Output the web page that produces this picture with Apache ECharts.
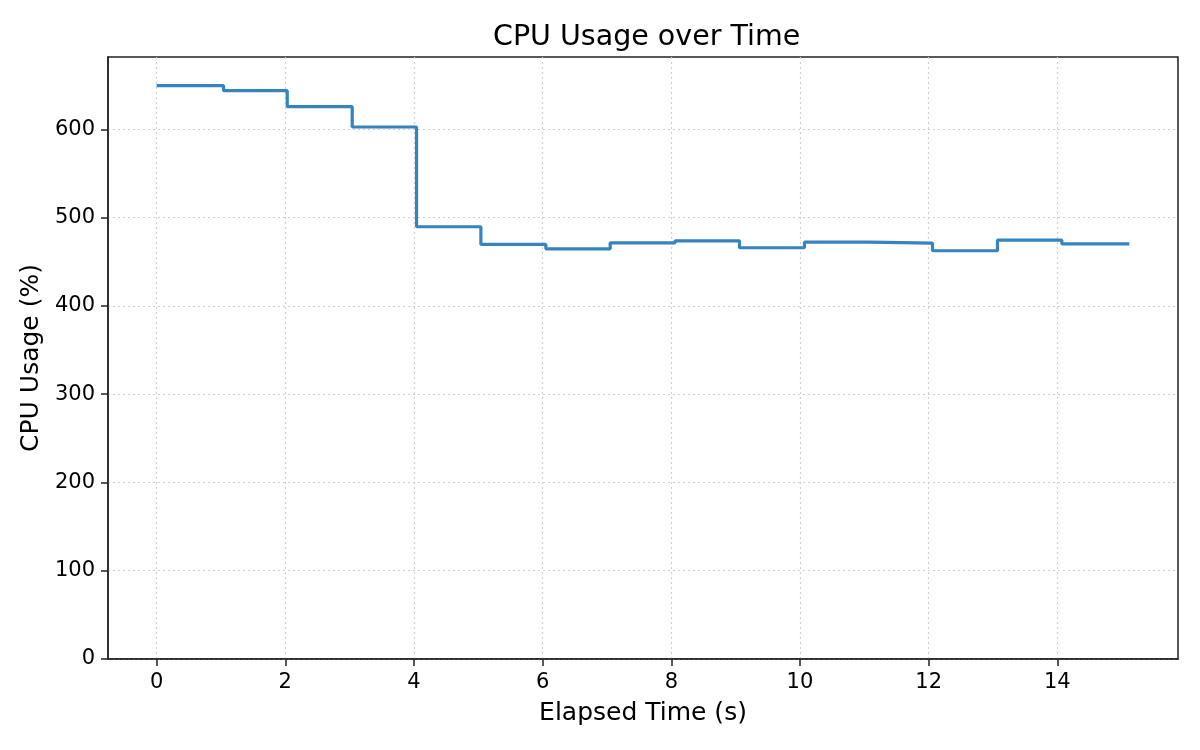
<!DOCTYPE html>
<html>
<head>
<meta charset="utf-8">
<script src="https://cdn.jsdelivr.net/npm/echarts@6/dist/echarts.min.js"></script>
<style>
  html, body { margin: 0; padding: 0; background: #fff; }
  #chart { width: 1200px; height: 750px; }
</style>
</head>
<body>
<div id="chart"></div>
<script>
// elapsed time of each sample (s)
var times = [0, 1.04, 2.03, 3.04, 4.04, 5.04, 6.05, 7.05, 8.06, 9.06, 10.07, 11.07, 12.06, 13.07, 14.07, 15.12];
// cpu usage at each sample (%), last value repeats the final level
var cpuUsage = [649.5, 643.9, 625.7, 602.7, 489.7, 469.7, 464.7, 471.5, 473.8, 465.9, 472.3, 471.2, 462.5, 474.6, 470.4, 470.4];
var xTicks = [0, 2, 4, 6, 8, 10, 12, 14];
var yTicks = [0, 100, 200, 300, 400, 500, 600];

var font = 'DejaVu Sans';

var points = [];
for (var i = 0; i < times.length; ++i) {
    points.push([times[i], cpuUsage[i]]);
}

var mychart = echarts.init(document.querySelector('#chart'));

var option = {
    animation: false,
    backgroundColor: '#fff',
    title: {
        text: 'CPU Usage over Time',
        left: 488,
        top: 18,
        textStyle: { fontFamily: font, fontSize: 28.5, fontWeight: 'normal', color: '#000' }
    },
    grid: {
        left: 108,
        right: 22,
        top: 57,
        bottom: 91,
        show: true,
        borderColor: '#222',
        borderWidth: 1.5
    },
    xAxis: {
        type: 'value',
        min: -0.756,
        max: 15.876,
        name: 'Elapsed Time (s)',
        nameLocation: 'middle',
        nameGap: 41.5,
        nameTextStyle: { fontFamily: font, fontSize: 25, color: '#000' },
        axisLine: { show: true, onZero: false, lineStyle: { color: '#222', width: 1.5 } },
        axisTick: { show: true, length: 7, customValues: xTicks, lineStyle: { color: '#222', width: 1.5 } },
        axisLabel: { customValues: xTicks, margin: 13, fontFamily: font, fontSize: 21, color: '#000' },
        splitLine: { show: true, lineStyle: { color: '#d0d0d0', width: 1.2, type: [2, 3] } }
    },
    yAxis: {
        type: 'value',
        min: 0,
        max: 682,
        name: 'CPU Usage (%)',
        nameLocation: 'middle',
        nameGap: 62,
        nameTextStyle: { fontFamily: font, fontSize: 25, color: '#000' },
        axisLine: { show: true, onZero: false, lineStyle: { color: '#222', width: 1.5 } },
        axisTick: { show: true, length: 7, customValues: yTicks, lineStyle: { color: '#222', width: 1.5 } },
        axisLabel: { customValues: yTicks, margin: 13, fontFamily: font, fontSize: 21, color: '#000' },
        splitLine: { show: true, lineStyle: { color: '#d0d0d0', width: 1.2, type: [2, 3] } }
    },
    series: [
        {
            name: 'CPU Usage',
            type: 'line',
            step: 'end',
            data: points,
            showSymbol: false,
            lineStyle: { color: '#3584bf', width: 3.2 },
            itemStyle: { color: '#3584bf' }
        }
    ]
};

mychart.setOption(option);
</script>
</body>
</html>
